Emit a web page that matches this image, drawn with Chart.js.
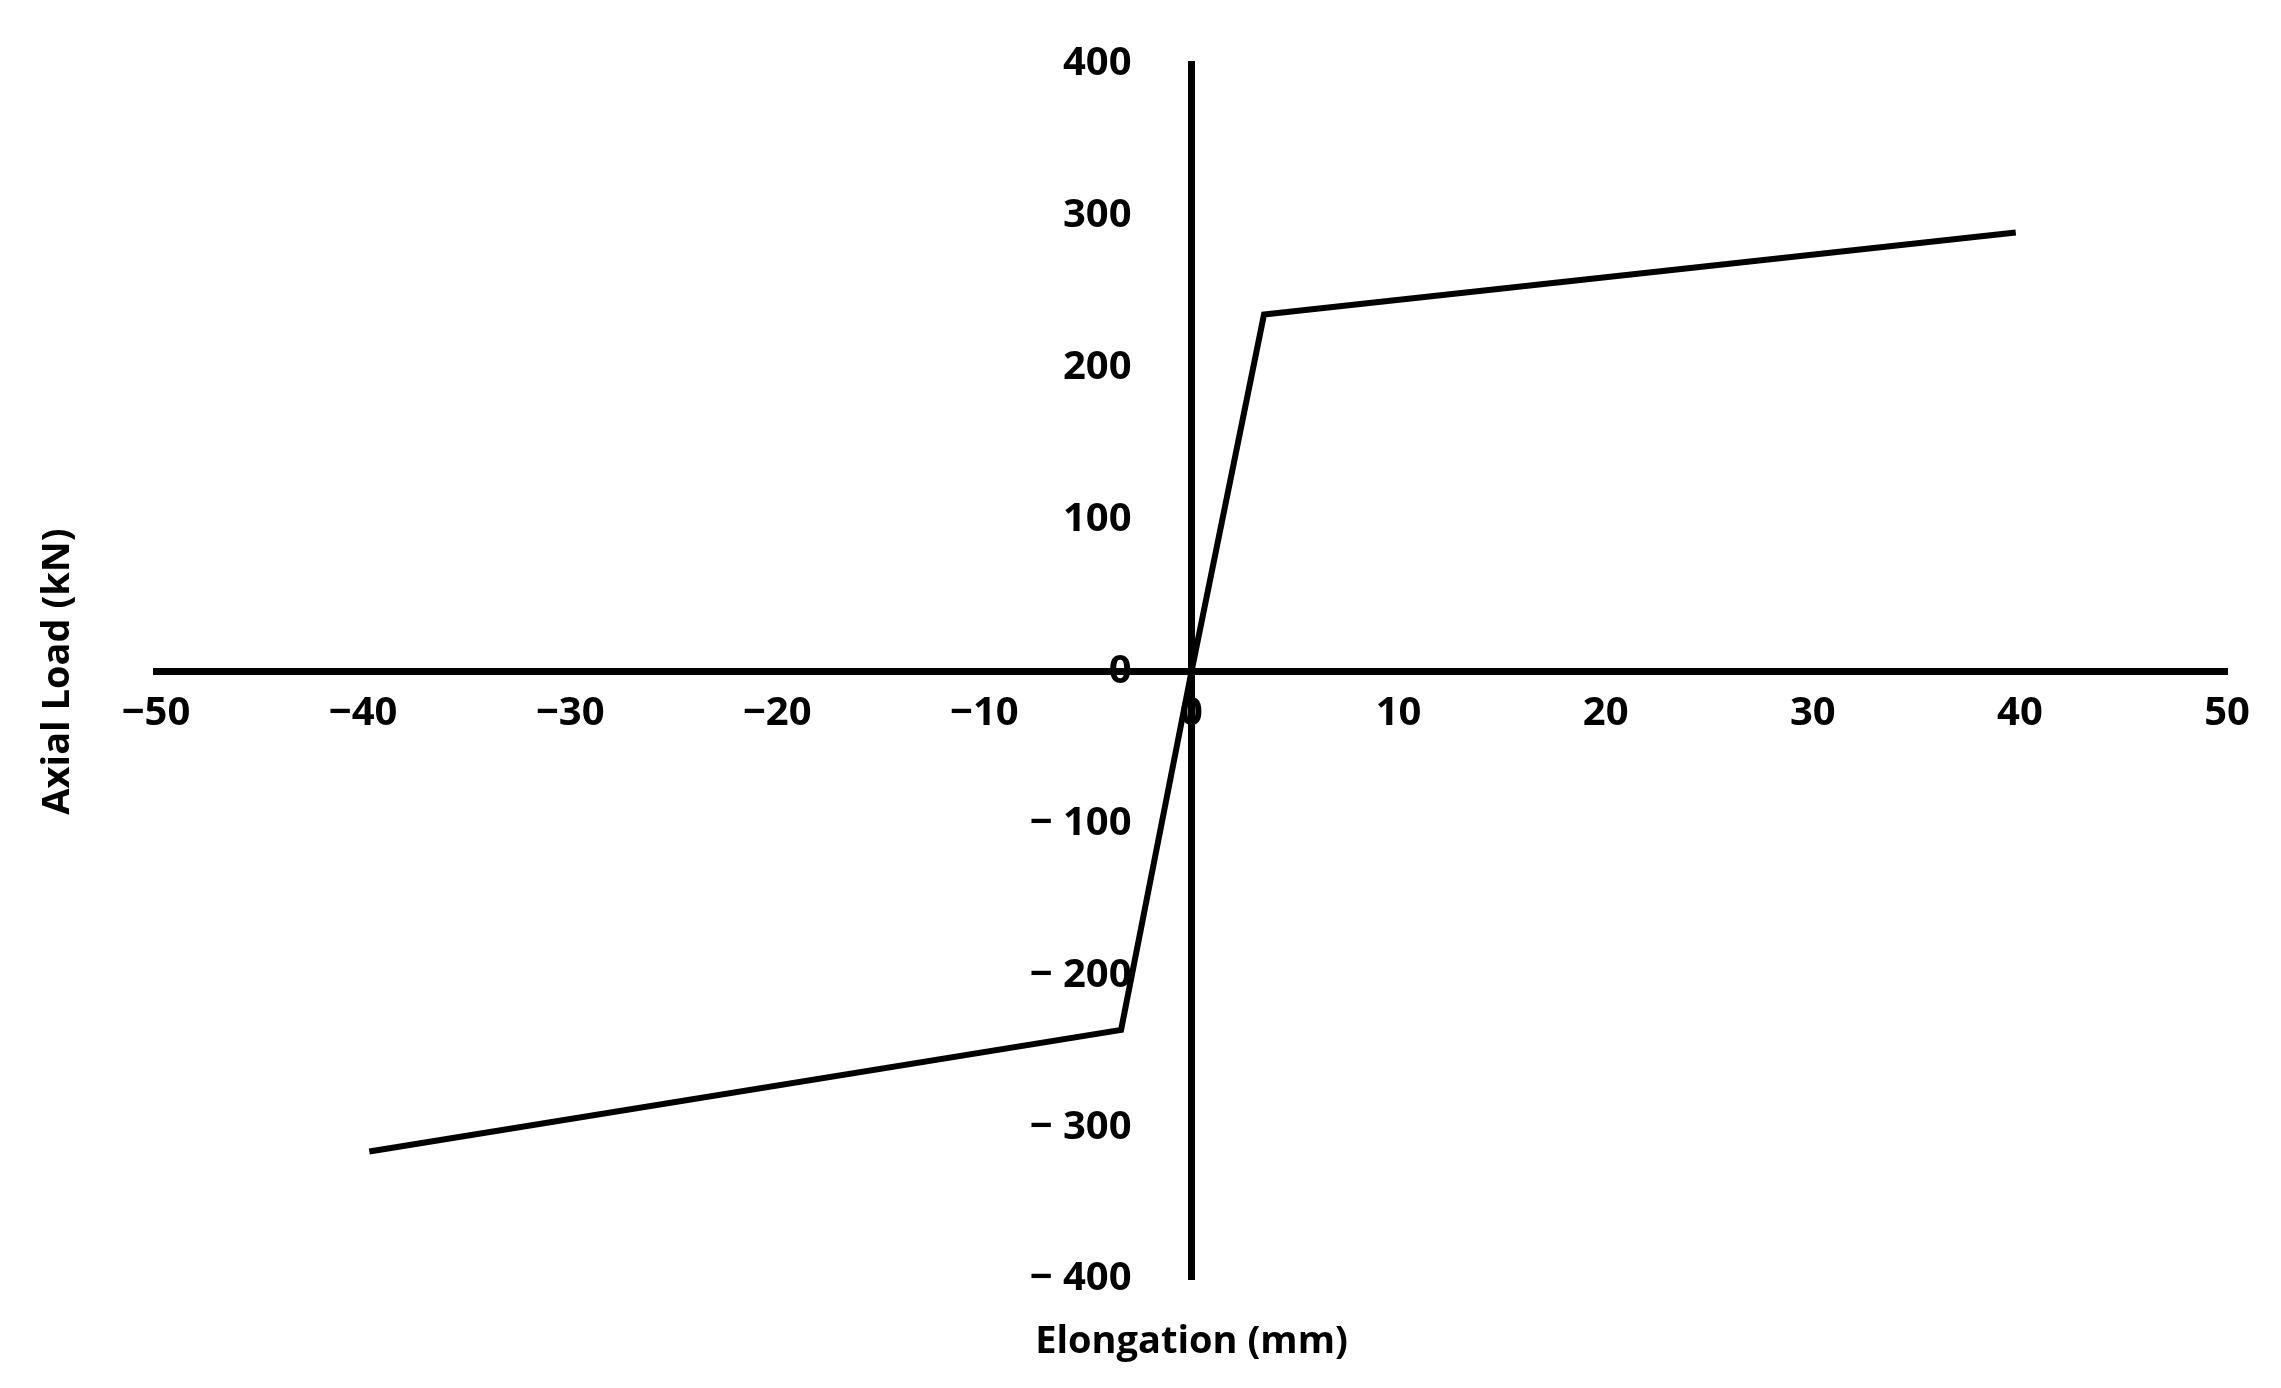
<!DOCTYPE html>
<html><head><meta charset="utf-8">
<script src="https://cdn.jsdelivr.net/npm/chart.js@4"></script>
<style>html,body{margin:0;background:#fff}#w{width:2281px;height:1388px}</style>
</head><body><div id="w"><canvas id="c"></canvas></div>
<script>
const elongation = [-39.7, -3.4, 0, 3.5, 39.8];
const axialLoad = [-316, -236, 0, 235, 289];
const xTicks = [-50,-40,-30,-20,-10,0,10,20,30,40,50];
const yTicks = [-400,-300,-200,-100,0,100,200,300,400];
const xTitle = 'Elongation (mm)';
const yTitle = 'Axial Load (kN)';
const F = '"Open Sans", "Liberation Sans", sans-serif';
const titles = {id:'titles', afterDraw(c){
  const g=c.ctx; g.save(); g.fillStyle='#000'; g.font='bold 38px '+F;
  g.textAlign='center'; g.textBaseline='middle';
  g.fillText(xTitle, c.scales.x.getPixelForValue(0), 1342);
  g.translate(58, c.scales.y.getPixelForValue(0)); g.rotate(-Math.PI/2);
  g.fillText(yTitle,0,0); g.restore();
}};
new Chart(document.getElementById('c'), {
  type:'scatter',
  data:{datasets:[{data:elongation.map((x,i)=>({x,y:axialLoad[i]})),showLine:true,
    borderColor:'#000',borderWidth:6,pointRadius:0,fill:false}]},
  options:{responsive:true,maintainAspectRatio:false,animation:false,
    layout:{padding:{left:156,right:54,top:44,bottom:109}},
    plugins:{legend:{display:false},tooltip:{enabled:false}},
    scales:{
      x:{type:'linear',position:{y:0},min:-50,max:50,
        afterBuildTicks(s){s.ticks=xTicks.map(v=>({value:v}));},
        grid:{display:false,drawTicks:false},border:{color:'#000',width:7},
        ticks:{color:'#000',padding:18,font:{family:F,weight:'bold',size:40},
          callback:v=>v<0?'\u2212'+Math.abs(v):String(v)}},
      y:{type:'linear',position:{x:0},min:-400,max:400,
        afterBuildTicks(s){s.ticks=yTicks.map(v=>({value:v}));},
        grid:{display:false,drawTicks:false},border:{color:'#000',width:7},
        ticks:{color:'#000',padding:40,font:{family:F,weight:'bold',size:40},
          callback:v=>(v<0?'\u2212 '+Math.abs(v):String(v))+'\u2003\u2002'}}
    }},
  plugins:[titles]
});
</script></body></html>
